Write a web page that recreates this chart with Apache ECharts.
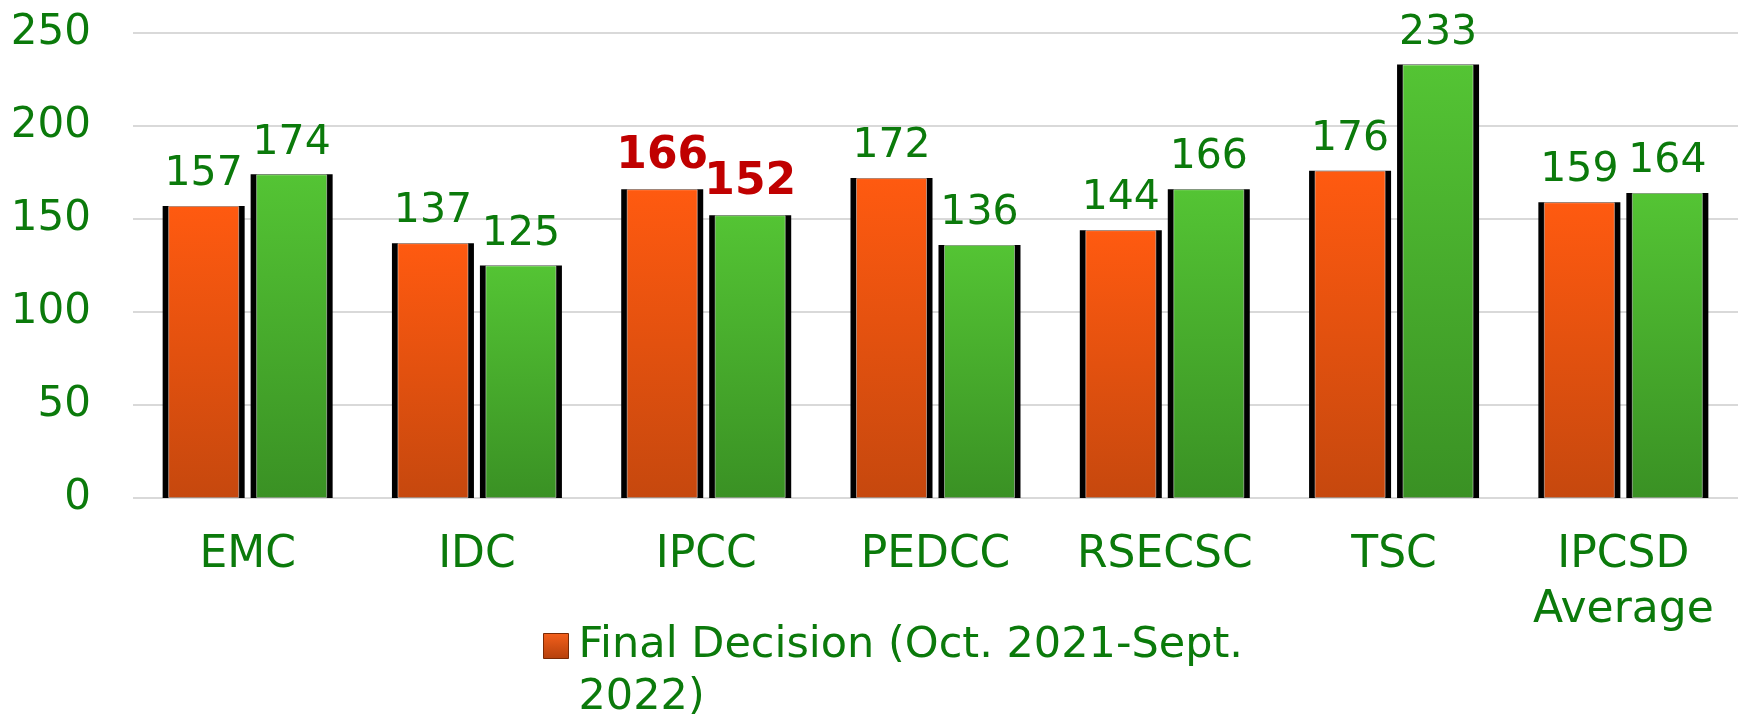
<!DOCTYPE html>
<html>
<head>
<meta charset="utf-8">
<script src="https://cdn.jsdelivr.net/npm/echarts@6/dist/echarts.min.js"></script>
<style>
html,body{margin:0;padding:0;background:#fff;}
#chart{width:1738px;height:718px;}
</style>
</head>
<body>
<div id="chart"></div>
<script>
const categories = ['EMC', 'IDC', 'IPCC', 'PEDCC', 'RSECSC', 'TSC', 'IPCSD\nAverage'];
const seriesNames = ['Final Decision (Oct. 2021-Sept. 2022)', 'Final Decision (Oct. 2022-Sept. 2023)'];
const orangeValues = [157, 137, 166, 172, 144, 176, 159];
const greenValues = [174, 125, 152, 136, 166, 233, 164];
const highlightCategories = ['IPCC'];
const yTicks = [0, 50, 100, 150, 200, 250];
const legendLines = ['Final Decision (Oct. 2021-Sept.', '2022)'];

const FONT = 'DejaVu Sans';
const TEXT_GREEN = '#0B7A0B';
const RED = '#C00000';

function vGrad(top, bottom) {
  return new echarts.graphic.LinearGradient(0, 0, 0, 1, [
    {offset: 0, color: top},
    {offset: 1, color: bottom}
  ]);
}
const orangeFill = vGrad('#FF5A10', '#C6480E');
const greenFill = vGrad('#54C434', '#3A9124');

function buildLabeled(values) {
  return values.map((v, i) => {
    const item = {value: v};
    if (highlightCategories.indexOf(categories[i]) >= 0) {
      item.label = {color: RED, fontWeight: 'bold', fontSize: 44};
    }
    return item;
  });
}

const labelCfg = {show: true, position: 'top', distance: 11, fontFamily: FONT, fontSize: 41, color: TEXT_GREEN};
const FRAME_W = 82, FILL_W = 71;

const chart = echarts.init(document.getElementById('chart'));
chart.setOption({
  animation: false,
  backgroundColor: '#fff',
  textStyle: {fontFamily: FONT},
  grid: {left: 133, right: 0, top: 33, bottom: 220, containLabel: false},
  legend: {
    data: [seriesNames[0]],
    left: 538,
    top: 563,
    icon: 'rect',
    itemWidth: 25,
    itemHeight: 25,
    formatter: function () {
      return '{p| }\n{t|' + legendLines[0] + '}\n{t|' + legendLines[1] + '}';
    },
    textStyle: {
      fontFamily: FONT, fontSize: 43, color: TEXT_GREEN, lineHeight: 52,
      rich: {
        p: {fontSize: 43, lineHeight: 52},
        t: {fontFamily: FONT, fontSize: 43, color: TEXT_GREEN, lineHeight: 52, padding: [0, 0, 0, 5]}
      }
    },
    itemStyle: {color: vGrad('#F4601C', '#B4400C'), borderColor: '#7A2A05', borderWidth: 1}
  },
  xAxis: [
    {
      type: 'category',
      data: categories,
      axisLine: {show: false},
      axisTick: {show: false},
      axisLabel: {fontFamily: FONT, fontSize: 44, color: TEXT_GREEN, lineHeight: 55, margin: 30, interval: 0}
    },
    {
      type: 'category',
      data: categories,
      show: false
    }
  ],
  yAxis: {
    type: 'value',
    min: 0,
    max: 250,
    interval: 50,
    axisLine: {show: false},
    axisTick: {show: false},
    splitLine: {lineStyle: {color: '#D9D9D9', width: 2}},
    axisLabel: {fontFamily: FONT, fontSize: 42, color: TEXT_GREEN, margin: 42,
      formatter: function (v) { return yTicks.indexOf(v) >= 0 ? String(v) : ''; }}
  },
  series: [
    {
      name: seriesNames[0], type: 'bar', xAxisIndex: 0,
      barWidth: FRAME_W, barGap: '7.3%',
      data: buildLabeled(orangeValues),
      itemStyle: {color: '#000', borderColor: '#000', borderWidth: 4},
      label: labelCfg
    },
    {
      name: seriesNames[1], type: 'bar', xAxisIndex: 0,
      barWidth: FRAME_W, barGap: '7.3%',
      data: buildLabeled(greenValues),
      itemStyle: {color: '#000', borderColor: '#000', borderWidth: 4},
      label: labelCfg
    },
    {
      name: seriesNames[0], type: 'bar', xAxisIndex: 1,
      barWidth: FILL_W, barGap: '23.9%',
      data: orangeValues,
      itemStyle: {color: orangeFill, borderColor: 'rgba(255,255,255,0.45)', borderWidth: 1}
    },
    {
      name: seriesNames[1], type: 'bar', xAxisIndex: 1,
      barWidth: FILL_W, barGap: '23.9%',
      data: greenValues,
      itemStyle: {color: greenFill, borderColor: 'rgba(255,255,255,0.45)', borderWidth: 1}
    }
  ]
});
</script>
</body>
</html>
